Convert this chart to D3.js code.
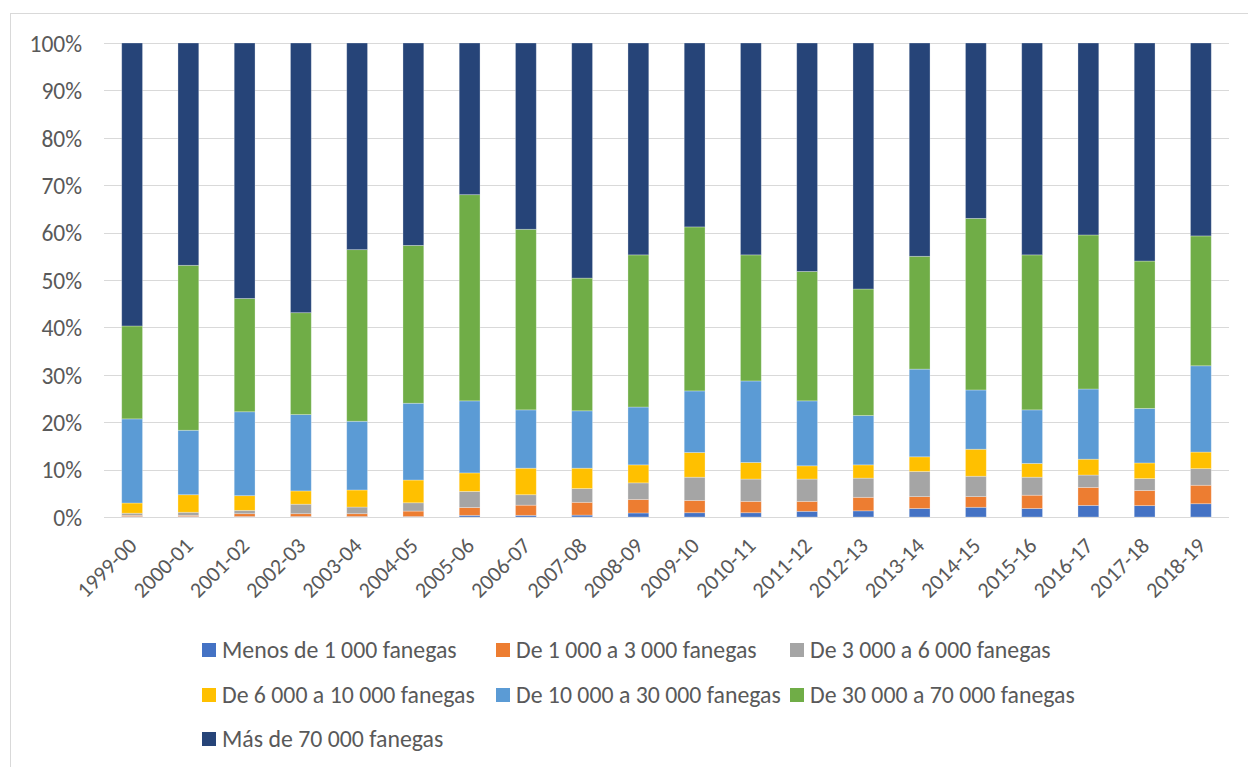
<!DOCTYPE html>
<html>
<head>
<meta charset="utf-8">
<script src="https://cdn.jsdelivr.net/npm/d3@7"></script>
<style>
  html, body { margin: 0; padding: 0; background: #fff; }
  svg { display: block; }
  text { font-family: Carlito, Calibri, Lato, sans-serif; fill: #595959; }
</style>
</head>
<body>
<svg id="chart" width="1248" height="767"></svg>
<script>
const categories = ["1999-00","2000-01","2001-02","2002-03","2003-04","2004-05","2005-06","2006-07","2007-08","2008-09","2009-10","2010-11","2011-12","2012-13","2013-14","2014-15","2015-16","2016-17","2017-18","2018-19"];
const seriesNames = ["Menos de 1 000 fanegas","De 1 000 a 3 000 fanegas","De 3 000 a 6 000 fanegas","De 6 000 a 10 000 fanegas","De 10 000 a 30 000 fanegas","De 30 000 a 70 000 fanegas","Más de 70 000 fanegas"];
const colors = ["#4472C4","#ED7D31","#A5A5A5","#FFC000","#5B9BD5","#70AD47","#264478"];
const menos1000   = [0.1,0.1,0.1,0.1,0.1,0.1,0.35,0.35,0.4,0.85,0.9,0.9,1.2,1.3,1.8,2.05,1.8,2.45,2.4,2.8];
const de1a3       = [0.25,0.25,0.6,0.6,0.6,1.15,1.65,2.15,2.7,2.85,2.6,2.4,2.1,2.85,2.5,2.25,2.8,3.8,3.2,3.9];
const de3a6       = [0.45,0.65,0.7,2.0,1.4,1.75,3.4,2.2,2.9,3.5,4.9,4.7,4.7,4.05,5.3,4.3,3.8,2.6,2.5,3.5];
const de6a10      = [2.15,3.7,3.1,2.8,3.6,4.8,3.9,5.6,4.3,3.8,5.2,3.5,2.8,2.8,3.1,5.7,2.9,3.35,3.3,3.5];
const de10a30     = [17.75,13.6,17.7,16.1,14.5,16.2,15.2,12.3,12.1,12.2,13.0,17.2,13.7,10.4,18.5,12.5,11.3,14.8,11.5,18.2];
const de30a70     = [19.6,34.8,23.9,21.5,36.2,33.3,43.5,38.1,28.0,32.1,34.6,26.6,27.3,26.7,23.8,36.2,32.7,32.5,31.1,27.4];
const mas70000    = [59.7,46.9,53.9,56.9,43.6,42.7,32.0,39.3,49.6,44.7,38.8,44.7,48.2,51.9,45.0,37.0,44.7,40.5,46.0,40.7];
const seriesValues = [menos1000, de1a3, de3a6, de6a10, de10a30, de30a70, mas70000];
const yTicks = [0,0.1,0.2,0.3,0.4,0.5,0.6,0.7,0.8,0.9,1.0];

const svg = d3.select("#chart");

// outer chart frame
svg.append("rect").attr("x",10.5).attr("y",13.5).attr("width",1260).attr("height",800)
  .attr("fill","none").attr("stroke","#D9D9D9").attr("stroke-width",1);

const rows = categories.map((c,i) => {
  const o = {cat: c};
  seriesNames.forEach((s,k) => o[s] = seriesValues[k][i]);
  return o;
});
const stacked = d3.stack().keys(seriesNames).offset(d3.stackOffsetExpand)(rows);

const x = d3.scaleBand().domain(categories).range([104,1229]).paddingInner(0.63).paddingOuter(0.315);
const y = d3.scaleLinear().domain([0,1]).range([517,43]);

// gridlines
svg.append("g").selectAll("line").data(yTicks).join("line")
  .attr("x1",104).attr("x2",1229)
  .attr("y1",d=>Math.round(y(d))+0.5).attr("y2",d=>Math.round(y(d))+0.5)
  .attr("stroke","#D9D9D9").attr("stroke-width",1);

// y axis labels
const yAxis = d3.axisLeft(y).tickValues(yTicks).tickFormat(d3.format(".0%")).tickSize(0).tickPadding(0);
const gy = svg.append("g").attr("transform","translate(82,0)").call(yAxis);
gy.select(".domain").remove();
gy.selectAll("text").attr("font-size","23.5px").style("font-family","Carlito, Calibri, Lato, sans-serif").attr("fill","#595959").attr("dy","0.35em");

// bars
svg.append("g").selectAll("g").data(stacked).join("g")
  .attr("fill",(d,i)=>colors[i])
  .selectAll("rect").data(d=>d).join("rect")
  .attr("x",d=>x(d.data.cat))
  .attr("width",x.bandwidth())
  .attr("y",d=>y(d[1]))
  .attr("height",d=>y(d[0])-y(d[1]))
  .attr("stroke","#ffffff").attr("stroke-opacity",0.35).attr("stroke-width",0.8);

// x axis labels
const xAxis = d3.axisBottom(x).tickSize(0).tickPadding(0);
const gx = svg.append("g").attr("transform","translate(0,517)").call(xAxis);
gx.select(".domain").remove();
gx.selectAll("text")
  .attr("font-size","22px").style("font-family","Carlito, Calibri, Lato, sans-serif").attr("fill","#595959")
  .attr("text-anchor","end").attr("dy",0).attr("y",0)
  .attr("transform","translate(6,30) rotate(-45)");

// legend
const legendPos = [[202,650],[496,650],[790,650],[202,695],[496,695],[790,695],[202,739]];
const lg = svg.append("g").selectAll("g").data(seriesNames).join("g")
  .attr("transform",(d,i)=>`translate(${legendPos[i][0]},${legendPos[i][1]})`);
lg.append("rect").attr("x",0).attr("y",-7).attr("width",14).attr("height",14).attr("fill",(d,i)=>colors[i]);
lg.append("text").attr("x",20).attr("y",0).attr("dy","0.35em").attr("font-size","23.8px").text(d=>d);
</script>
</body>
</html>
